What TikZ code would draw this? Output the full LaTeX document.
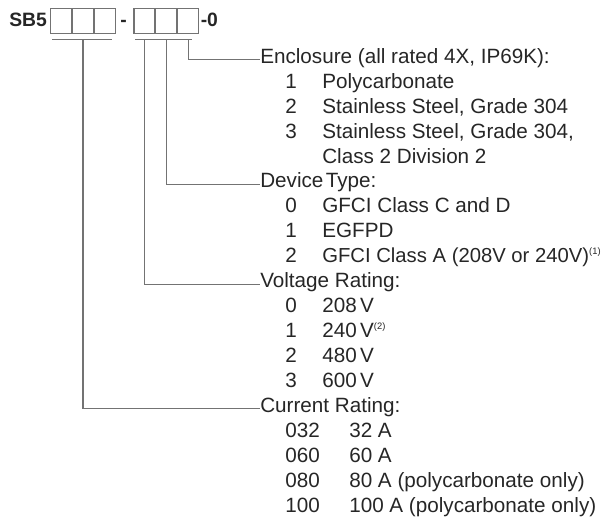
\documentclass[tikz,border=0pt]{standalone}
\usepackage{fontspec}
\setmainfont{Liberation Sans}
\usetikzlibrary{positioning}
\colorlet{TextGray}{black!85}
\colorlet{LeadGray}{black!55}
\newcommand{\supnote}[1]{\raisebox{6pt}{\fontsize{7}{7}\selectfont(#1)}}
\tikzset{
  cell/.style={draw=LeadGray, line width=0.8pt, minimum width=15.6pt, minimum height=18.75pt, inner sep=0pt},
  code/.style={font=\bfseries\fontsize{14.5}{17}\selectfont, text=TextGray, inner sep=0pt, anchor=base west},
  hdr/.style={font=\fontsize{15.5}{18}\selectfont, text=TextGray, inner sep=0pt, anchor=base west},
  opt/.style={hdr},
  lead/.style={draw=LeadGray, line width=0.8pt},
}

\begin{document}
\begin{tikzpicture}[x=0.75pt, y=-0.75pt]
  \useasboundingbox (0,0) rectangle (603,519);
  % catalogue number
  \node[code] (sb) at (9,26.7) {SB5};
  \node[cell] (c1) at (61.1,20.8) {};
  \node[cell, right=0pt of c1] (c2) {};
  \node[cell, right=0pt of c2] (c3) {};
  \node[code, anchor=base] (dash) at (123.5,26.7) {-};
  \node[cell] (c4) at (144.4,20.8) {};
  \node[cell, right=0pt of c4] (c5) {};
  \node[cell, right=0pt of c5] (c6) {};
  \node[code] (tail) at (200.5,26.7) {-0};
  \coordinate (ula) at (52,39.3);
  \coordinate (ulb) at (112,39.3);
  \coordinate (ulc) at (135,39.3);
  \coordinate (uld) at (192,39.3);

  % enclosure
  \node[hdr] (encl) at (260,63.3) {Enclosure (all rated 4X, IP69K):};
  \node[opt] (e1) at (285,88.2) {1};
  \node[opt] (e1t) at (322,88.2) {Polycarbonate};
  \node[opt] (e2) at (285,113.2) {2};
  \node[opt] (e2t) at (322,113.2) {Stainless Steel, Grade 304};
  \node[opt] (e3) at (285,138.1) {3};
  \node[opt] (e3t) at (322,138.1) {Stainless Steel, Grade 304,};
  \node[opt] (e3u) at (322,163.0) {Class 2 Division 2};

  % device type
  \node[hdr] (dev) at (260,187.9) {Device\kern0.12em Type:};
  \node[opt] (d0) at (285,212.9) {0};
  \node[opt] (d0t) at (322,212.9) {GFCI Class C and D};
  \node[opt] (d1) at (285,237.8) {1};
  \node[opt] (d1t) at (322,237.8) {EGFPD};
  \node[opt] (d2) at (285,262.7) {2};
  \node[opt, font=\fontsize{15.2}{18}\selectfont] (d2t) at (322,262.7) {GFCI Class A (208V or 240V)\supnote{1}};

  % voltage rating
  \node[hdr] (volt) at (260,287.7) {Voltage Rating:};
  \node[opt] (v0) at (285,312.6) {0};
  \node[opt] (v0t) at (322,312.6) {208\,V};
  \node[opt] (v1) at (285,337.5) {1};
  \node[opt] (v1t) at (322,337.5) {240\,V\supnote{2}};
  \node[opt] (v2) at (285,362.5) {2};
  \node[opt] (v2t) at (322,362.5) {480\,V};
  \node[opt] (v3) at (285,387.4) {3};
  \node[opt] (v3t) at (322,387.4) {600\,V};

  % current rating
  \node[hdr] (cur) at (260,412.3) {Current Rating:};
  \node[opt] (a1) at (285,437.3) {032};
  \node[opt] (a1t) at (349,437.3) {32 A};
  \node[opt] (a2) at (285,462.2) {060};
  \node[opt] (a2t) at (349,462.2) {60 A};
  \node[opt] (a3) at (285,487.1) {080};
  \node[opt] (a3t) at (349,487.1) {80 A (polycarbonate only)};
  \node[opt] (a4) at (285,512.0) {100};
  \node[opt] (a4t) at (349,512.0) {100 A (polycarbonate only)};

  % leaders
  \draw[lead] (ula) -- (ulb);
  \draw[lead] (ulc) -- (uld);
  \draw[lead] (c2.south |- ula) |- (cur.mid west);
  \draw[lead] (c4.south |- ulc) |- (volt.mid west);
  \draw[lead] (c5.south |- ulc) |- (dev.mid west);
  \draw[lead] (c6.south |- ulc) |- (encl.mid west);
\end{tikzpicture}
\end{document}
